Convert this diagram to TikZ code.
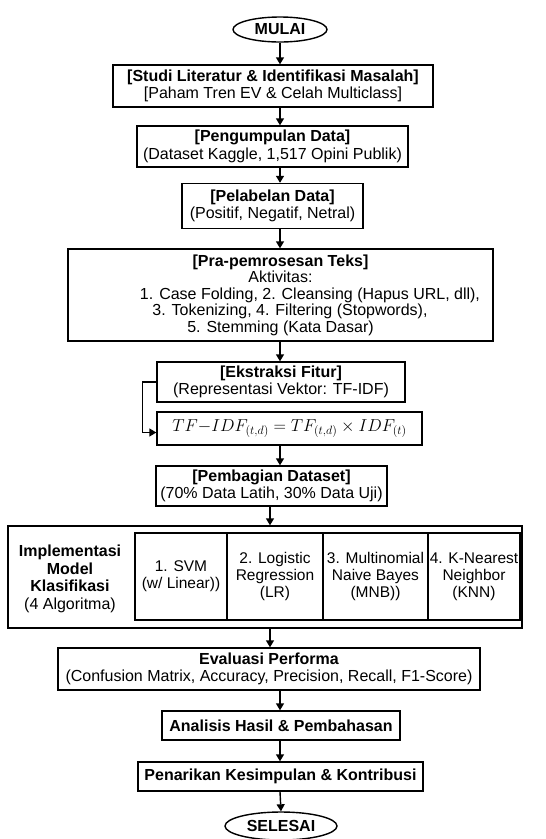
\documentclass[tikz,border=0pt]{standalone}
\usepackage{fontspec}
\setmainfont{Liberation Sans}
\usetikzlibrary{shapes.geometric,arrows.meta}
\begin{document}
\begin{tikzpicture}[x=1pt,y=-1pt,
  box/.style={draw=black,line width=1.4pt,fill=white,rectangle,inner sep=0pt,align=center,
    font=\fontsize{16}{17.5}\selectfont},
  cell/.style={box,minimum height=87pt,font=\fontsize{15.5}{17}\selectfont},
  term/.style={draw=black,line width=1.4pt,fill=white,ellipse,inner sep=0pt,
    font=\fontsize{16}{17.5}\selectfont\bfseries},
  arr/.style={line width=1.4pt,-{Triangle[length=7pt,width=8pt]}},
  conn/.style={line width=1.4pt}]
\useasboundingbox[fill=white] (0,0) rectangle (546,839);
% terminals
\node[term,minimum width=94pt,minimum height=25pt] (mulai) at (280,29.5) {MULAI};
\node[term,minimum width=112pt,minimum height=28pt] (selesai) at (281,826) {SELESAI};
% boxes
\node[box,minimum width=320pt,minimum height=42pt] (b1) at (273,86)
  {\textbf{[Studi Literatur \& Identifikasi Masalah]}\\{}{[}Paham Tren EV \& Celah Multiclass{]}};
\node[box,minimum width=271pt,minimum height=41pt] (b2) at (272.5,146.5)
  {\textbf{[Pengumpulan Data]}\\(Dataset Kaggle, 1,517 Opini Publik)};
\node[box,minimum width=181pt,minimum height=45pt] (b3) at (272.5,206)
  {\textbf{[Pelabelan Data]}\\(Positif, Negatif, Netral)};
\node[box,minimum width=425pt,minimum height=92pt,font=\fontsize{16}{16.5}\selectfont] (b4) at (280.5,295)
  {\textbf{[Pra-pemrosesan Teks]}\\Aktivitas:\\
   \hspace*{59pt}1. Case Folding, 2. Cleansing (Hapus URL, dll),\\
   \hspace*{19pt}3. Tokenizing, 4. Filtering (Stopwords),\\
   5. Stemming (Kata Dasar)};
\node[box,minimum width=248pt,minimum height=40pt] (b5) at (281,382)
  {\textbf{[Ekstraksi Fitur]}\\(Representasi Vektor: TF-IDF)};
\node[box,minimum width=265pt,minimum height=33pt,font=\fontsize{17}{19}\selectfont] (b6) at (289.5,428.5)
  {$TF{-}IDF_{(t,d)} = TF_{(t,d)} \times IDF_{(t)}$};
\node[box,minimum width=231pt,minimum height=40pt] (b7) at (271.5,486)
  {\textbf{[Pembagian Dataset]}\\(70\% Data Latih, 30\% Data Uji)};
% implementation block
\node[box,minimum width=514pt,minimum height=102pt] (b8) at (265,577) {};
\node[box,draw=none,fill=none] (lbl) at (70,579)
  {\textbf{Implementasi}\\\textbf{Model}\\\textbf{Klasifikasi}\\(4 Algoritma)};
\node[cell,minimum width=92pt] (c1) at (181,576.5)
  {1. SVM\\(w/ Linear))};
\node[cell,minimum width=96pt] (c2) at (275,576.5)
  {2. Logistic\\Regression\\(LR)};
\node[cell,minimum width=105pt] (c3) at (375.5,576.5)
  {3. Multinomial\\Naive Bayes\\(MNB))};
\node[cell,minimum width=92pt] (c4) at (474,576.5)
  {4. K-Nearest\\Neighbor\\(KNN)};
\node[box,minimum width=422pt,minimum height=42pt] (b9) at (269,669)
  {\textbf{Evaluasi Performa}\\(Confusion Matrix, Accuracy, Precision, Recall, F1-Score)};
\node[box,minimum width=238pt,minimum height=29pt] (b10) at (281,725.5)
  {\textbf{Analisis Hasil \& Pembahasan}};
\node[box,minimum width=285pt,minimum height=29pt] (b11) at (280.5,776.5)
  {\textbf{Penarikan Kesimpulan \& Kontribusi}};
% arrows
\coordinate (ax) at (280,0);
\coordinate (bx) at (270,0);
\draw[arr] (mulai.south) -- (b1.north -| ax);
\draw[arr] (b1.south -| ax) -- (b2.north -| ax);
\draw[arr] (b2.south -| ax) -- (b3.north -| ax);
\draw[arr] (b3.south -| ax) -- (b4.north -| ax);
\draw[arr] (b4.south -| ax) -- (b5.north -| ax);
\draw[conn,-{Triangle[length=7pt,width=8pt]}] (b5.west) -- ++(-14,0) |- ([yshift=-4pt]b6.west);
\draw[arr] (b6.south -| ax) -- (b7.north -| ax);
\draw[arr] (b7.south -| bx) -- (b8.north -| bx);
\draw[arr] (b8.south -| bx) -- (b9.north -| bx);
\draw[arr] (b9.south -| ax) -- (b10.north -| ax);
\draw[arr] (b10.south -| ax) -- (b11.north -| ax);
\draw[arr] (b11.south -| ax) -- (selesai.north);
\end{tikzpicture}
\end{document}
